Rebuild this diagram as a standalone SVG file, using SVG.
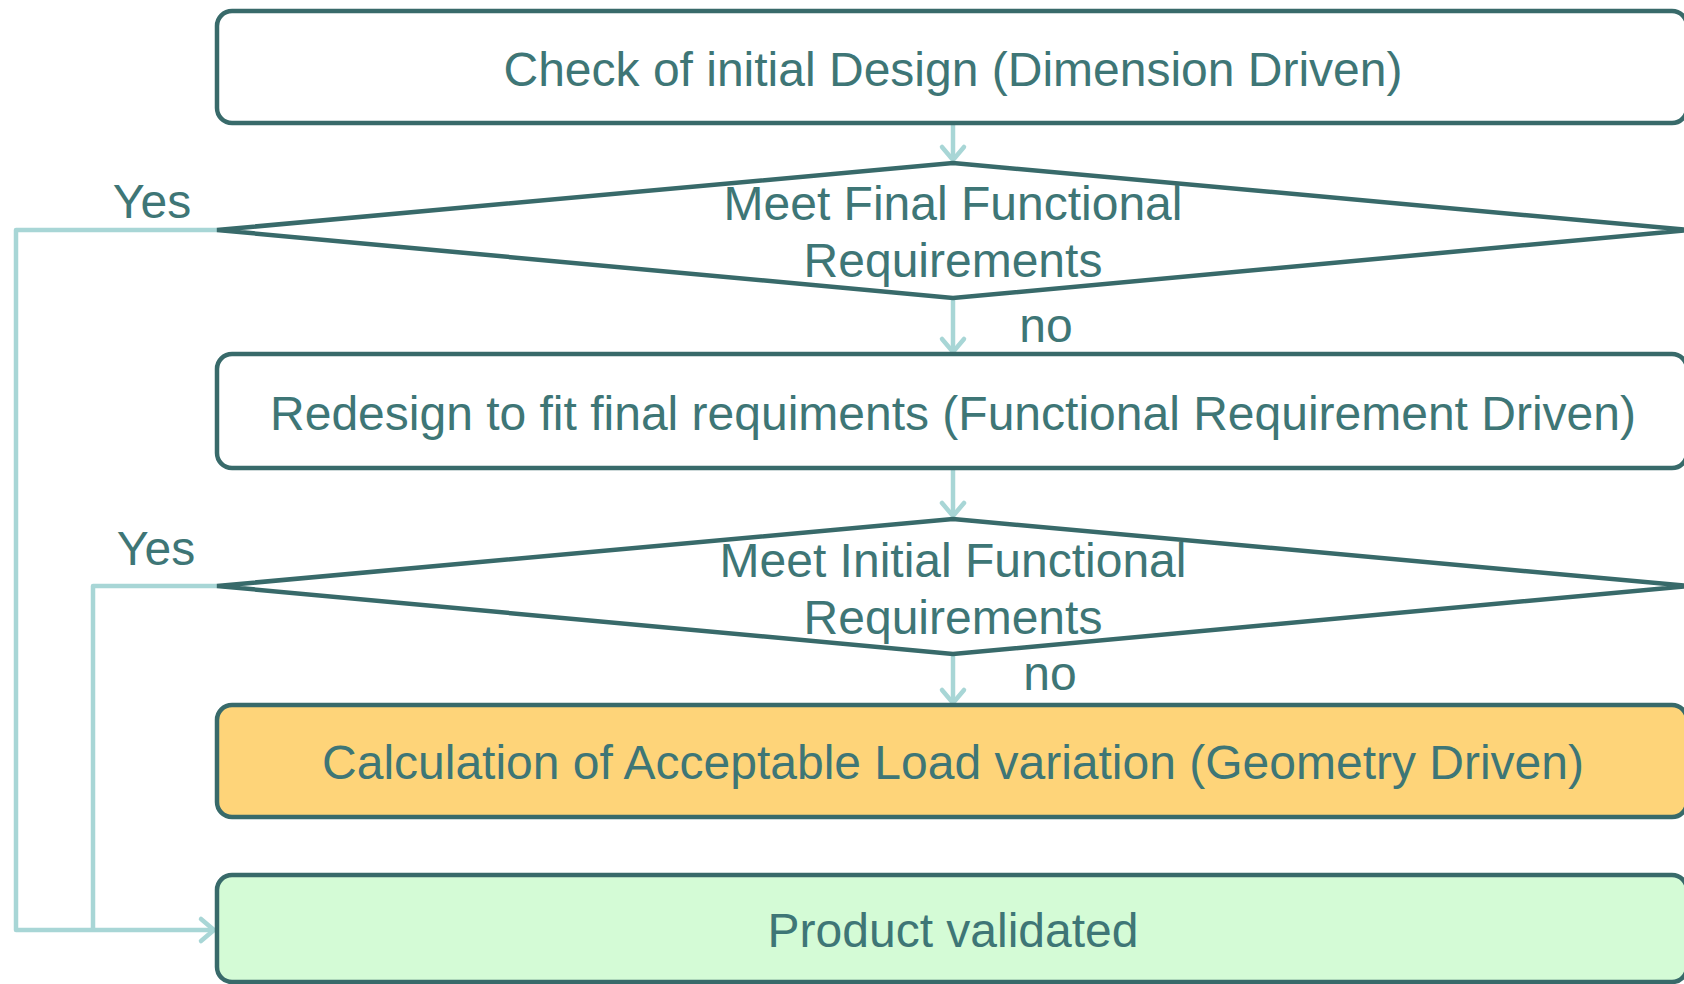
<svg xmlns="http://www.w3.org/2000/svg" width="1684" height="984" viewBox="0 0 1684 984">
<style>
.box{stroke:#386A6A;stroke-width:4.5;fill:#FFFFFF}
.dia{stroke:#386A6A;stroke-width:4.5;fill:#FFFFFF;stroke-linejoin:miter}
.t{font-family:"Liberation Sans",Arial,sans-serif;font-size:48px;fill:#3E7676;text-anchor:middle}
.c{stroke:#A8D6D6;stroke-width:4.5;fill:none;stroke-linejoin:round}
.ah{stroke:#A8D6D6;stroke-width:4.5;fill:none;stroke-linecap:round;stroke-linejoin:round}
</style>
<rect width="1684" height="984" fill="#FFFFFF"/>
<g id="connectors">
<path class="c" d="M953 123V160"/>
<path class="ah" d="M942 147L953 160L964 147"/>
<path class="c" d="M953 299V352"/>
<path class="ah" d="M942 339L953 352L964 339"/>
<path class="c" d="M953 468V516"/>
<path class="ah" d="M942 503L953 516L964 503"/>
<path class="c" d="M953 654V703"/>
<path class="ah" d="M942 690L953 703L964 690"/>
<path class="c" d="M217 230H16V930H214"/>
<path class="c" d="M217 586H93V930"/>
<path class="ah" d="M201 919L214 930L201 941"/>
</g>
<g id="n1">
<rect class="box" x="217" y="11" width="1470" height="112" rx="15"/>
<text class="t" x="953" y="86">Check of initial Design (Dimension Driven)</text>
</g>
<g id="d1">
<polygon class="dia" points="953,163 1689,230 953,298 217,230"/>
<text class="t" x="953" y="220">Meet Final Functional</text>
<text class="t" x="953" y="277">Requirements</text>
</g>
<g id="n2">
<rect class="box" x="217" y="354" width="1470" height="114" rx="15"/>
<text class="t" x="953" y="430">Redesign to fit final requiments (Functional Requirement Driven)</text>
</g>
<g id="d2">
<polygon class="dia" points="953,519 1689,586 953,654 217,586"/>
<text class="t" x="953" y="577">Meet Initial Functional</text>
<text class="t" x="953" y="634">Requirements</text>
</g>
<g id="n3">
<rect class="box" x="217" y="705" width="1470" height="112" rx="15" style="fill:#FED479"/>
<text class="t" x="953" y="779">Calculation of Acceptable Load variation (Geometry Driven)</text>
</g>
<g id="n4">
<rect class="box" x="217" y="875" width="1470" height="107" rx="15" style="fill:#D4FBD6"/>
<text class="t" x="953" y="947">Product validated</text>
</g>
<g id="labels">
<text class="t" x="152" y="218">Yes</text>
<text class="t" x="156" y="565">Yes</text>
<text class="t" x="1046" y="342">no</text>
<text class="t" x="1050" y="690">no</text>
</g>
</svg>
